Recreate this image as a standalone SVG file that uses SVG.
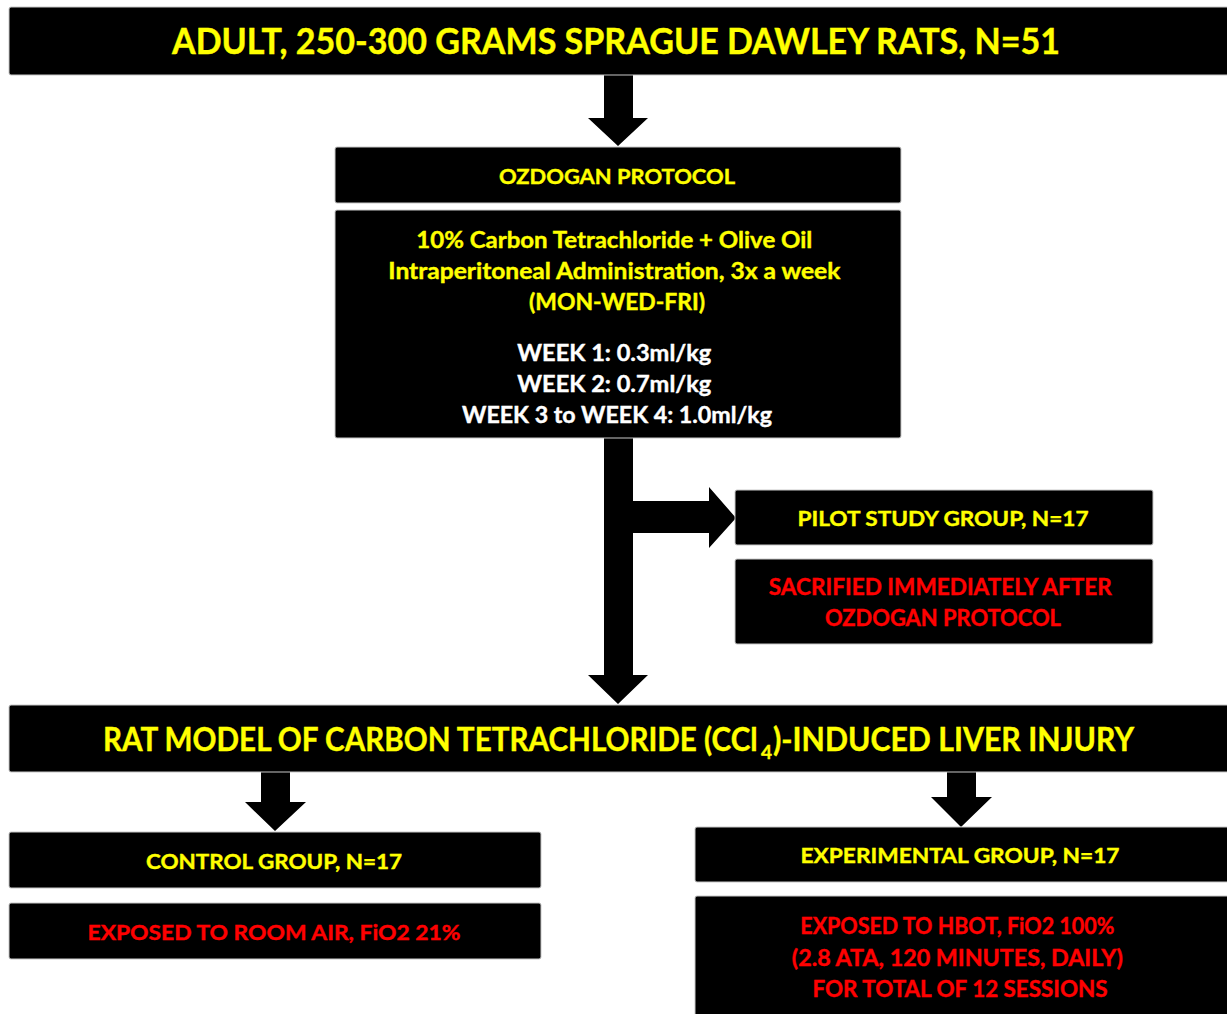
<svg xmlns="http://www.w3.org/2000/svg" width="1227" height="1014" viewBox="0 0 1227 1014">
<style>
.box{fill:#000;stroke:#c8c8c8;stroke-width:1}
.t{font-family:Lato,"Open Sans","Liberation Sans",sans-serif;font-weight:bold;text-anchor:middle;stroke-width:0.4}
.s{text-anchor:start}
.y{fill:#ffff00;stroke:#ffff00}.r{fill:#ff0000;stroke:#ff0000}.w{fill:#fff;stroke:#fff}
.arr{fill:#000}
</style>
<rect width="1227" height="1014" fill="#fff"/>
<g id="connectors">
<path class="arr" d="M604,75 H633 V118 H648 L618,146 L588,118 H604 Z"/>
<path class="arr" d="M604,438 H633 V501 H709 V487 L736,518 L709,548 V533 H633 V675 H648 L618,704 L588,675 H604 Z"/>
<path class="arr" d="M261,772 H290 V802 H306 L275,831 L245,802 H261 Z"/>
<path class="arr" d="M947,772 H976 V797 H992 L961,827 L931,797 H947 Z"/>
</g>
<g id="n_adult">
<rect class="box" x="9" y="7" width="1230" height="68" rx="2"/>
<text class="t y" x="616" y="54" font-size="36" textLength="888" lengthAdjust="spacingAndGlyphs">ADULT, 250-300 GRAMS SPRAGUE DAWLEY RATS, N=51</text>
</g>
<g id="n_ozdogan">
<rect class="box" x="335" y="147" width="566" height="56" rx="2"/>
<text class="t y" x="617" y="184" font-size="21" textLength="236" lengthAdjust="spacingAndGlyphs">OZDOGAN PROTOCOL</text>
</g>
<g id="n_protocol">
<rect class="box" x="335" y="210" width="566" height="228" rx="2"/>
<text class="t y" font-size="22">
<tspan x="617" y="248" textLength="396" lengthAdjust="spacingAndGlyphs">10% Carbon Tetrachloride + Olive Oil</tspan>
<tspan x="617" y="279" textLength="452" lengthAdjust="spacingAndGlyphs">Intraperitoneal Administration, 3x a week</tspan>
<tspan x="617" y="310" textLength="176" lengthAdjust="spacingAndGlyphs">(MON-WED-FRI)</tspan>
</text>
<text class="t w" font-size="22">
<tspan x="617" y="361" textLength="194" lengthAdjust="spacingAndGlyphs">WEEK 1: 0.3ml/kg</tspan>
<tspan x="617" y="392" textLength="194" lengthAdjust="spacingAndGlyphs">WEEK 2: 0.7ml/kg</tspan>
<tspan x="617" y="423" textLength="310" lengthAdjust="spacingAndGlyphs">WEEK 3 to WEEK 4: 1.0ml/kg</tspan>
</text>
</g>
<g id="n_pilot">
<rect class="box" x="735" y="490" width="418" height="55" rx="2"/>
<text class="t y" x="943" y="526" font-size="21" textLength="291" lengthAdjust="spacingAndGlyphs">PILOT STUDY GROUP, N=17</text>
</g>
<g id="n_sacrificed">
<rect class="box" x="735" y="559" width="418" height="85" rx="2"/>
<text class="t r" font-size="22">
<tspan x="943" y="595" textLength="343" lengthAdjust="spacingAndGlyphs">SACRIFIED IMMEDIATELY AFTER</tspan>
<tspan x="943" y="626" textLength="236" lengthAdjust="spacingAndGlyphs">OZDOGAN PROTOCOL</tspan>
</text>
</g>
<g id="n_model">
<rect class="box" x="9" y="705" width="1230" height="67" rx="2"/>
<text class="t s y" x="0" y="0" font-size="33" transform="translate(103,751) scale(0.898,1)">RAT MODEL OF CARBON TETRACHLORIDE (CCl</text>
<text class="t s y" x="761" y="759" font-size="19">4</text>
<text class="t s y" x="0" y="0" font-size="33" transform="translate(773,751) scale(0.918,1)">)-INDUCED LIVER INJURY</text>
</g>
<g id="n_control">
<rect class="box" x="9" y="832" width="532" height="56" rx="2"/>
<text class="t y" x="274" y="869" font-size="21" textLength="256" lengthAdjust="spacingAndGlyphs">CONTROL GROUP, N=17</text>
</g>
<g id="n_roomair">
<rect class="box" x="9" y="903" width="532" height="56" rx="2"/>
<text class="t r" x="274" y="940" font-size="21" textLength="373" lengthAdjust="spacingAndGlyphs">EXPOSED TO ROOM AIR, FiO2 21%</text>
</g>
<g id="n_experimental">
<rect class="box" x="695" y="827" width="540" height="55" rx="2"/>
<text class="t y" x="960" y="863" font-size="21" textLength="319" lengthAdjust="spacingAndGlyphs">EXPERIMENTAL GROUP, N=17</text>
</g>
<g id="n_hbot">
<rect class="box" x="695" y="896" width="540" height="130" rx="2"/>
<text class="t r" font-size="22">
<tspan x="960" y="934" textLength="314" lengthAdjust="spacingAndGlyphs">EXPOSED TO HBOT, FiO2 100%</tspan>
<tspan x="960" y="966" textLength="331" lengthAdjust="spacingAndGlyphs">(2.8 ATA, 120 MINUTES, DAILY)</tspan>
<tspan x="960" y="997" textLength="295" lengthAdjust="spacingAndGlyphs">FOR TOTAL OF 12 SESSIONS</tspan>
</text>
</g>
</svg>
